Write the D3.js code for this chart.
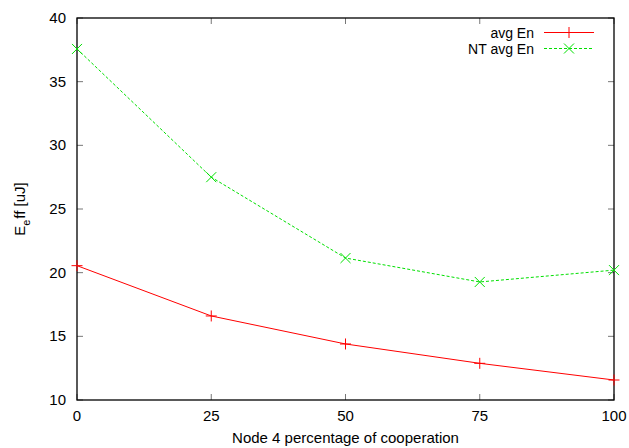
<!DOCTYPE html>
<html>
<head>
<meta charset="utf-8">
<script src="https://cdn.jsdelivr.net/npm/d3@7"></script>
<style>
  body { margin: 0; background: #fff; }
  text { font-family: "Liberation Sans", Arial, sans-serif; font-size: 15px; fill: #000; }
</style>
</head>
<body>
<div id="chart"></div>
<script>
// data
const coop = [0, 25, 50, 75, 100];
const avgEn = [20.55, 16.6, 14.4, 12.88, 11.57];
const ntAvgEn = [37.57, 27.5, 21.15, 19.27, 20.2];
const xTicks = [0, 25, 50, 75, 100];
const yTicks = [10, 15, 20, 25, 30, 35, 40];

const W = 629, H = 448;
const margin = { top: 18, right: 15, bottom: 48, left: 77 };
const width = W - margin.left - margin.right;
const height = H - margin.top - margin.bottom;

const svg = d3.select('#chart').append('svg')
    .attr('width', W).attr('height', H);
const g = svg.append('g')
    .attr('transform', 'translate(' + margin.left + ',' + margin.top + ')');

const x = d3.scaleLinear().domain([0, 100]).range([0, width]);
const y = d3.scaleLinear().domain([10, 40]).range([height, 0]);

// tick marks, mirrored on all sides (gnuplot style)
const tickLen = 6;
const tickCol = '#777';
xTicks.forEach(t => {
    g.append('line').attr('x1', x(t)).attr('x2', x(t))
        .attr('y1', height).attr('y2', height - tickLen).attr('stroke', tickCol);
    g.append('line').attr('x1', x(t)).attr('x2', x(t))
        .attr('y1', 0).attr('y2', tickLen).attr('stroke', tickCol);
    g.append('text').attr('x', x(t)).attr('y', height + 21)
        .attr('text-anchor', 'middle').text(t);
});
yTicks.forEach(t => {
    g.append('line').attr('x1', 0).attr('x2', tickLen)
        .attr('y1', y(t)).attr('y2', y(t)).attr('stroke', tickCol);
    g.append('line').attr('x1', width).attr('x2', width - tickLen)
        .attr('y1', y(t)).attr('y2', y(t)).attr('stroke', tickCol);
    g.append('text').attr('x', -11).attr('y', y(t) + 5)
        .attr('text-anchor', 'end').text(t);
});

// frame
g.append('rect').attr('width', width).attr('height', height)
    .attr('fill', 'none').attr('stroke', '#000').attr('stroke-width', 1.3);

// axis labels
svg.append('text').attr('x', margin.left + width / 2).attr('y', 443)
    .attr('text-anchor', 'middle').text('Node 4 percentage of cooperation');
const yl = svg.append('text')
    .attr('transform', 'translate(25,' + (margin.top + height / 2) + ') rotate(-90)')
    .attr('text-anchor', 'middle');
yl.append('tspan').text('E');
yl.append('tspan').attr('dy', 5).attr('font-size', 11).text('e');
yl.append('tspan').attr('dy', -5).attr('dx', 1).text('ff [uJ]');

const line = d3.line().x((d, i) => x(coop[i])).y(d => y(d));

function plus(sel, cx, cy, col) {
    const s = 5.5;
    sel.append('path').attr('d', `M${cx - s},${cy}H${cx + s}M${cx},${cy - s}V${cy + s}`)
        .attr('stroke', col).attr('fill', 'none');
}
function cross(sel, cx, cy, col) {
    const s = 5;
    sel.append('path').attr('d', `M${cx - s},${cy - s}L${cx + s},${cy + s}M${cx - s},${cy + s}L${cx + s},${cy - s}`)
        .attr('stroke', col).attr('fill', 'none');
}

const red = '#ff0000', green = '#00e000';

g.append('path').datum(avgEn).attr('d', line)
    .attr('fill', 'none').attr('stroke', red).attr('stroke-width', 1);
avgEn.forEach((v, i) => plus(g, x(coop[i]), y(v), red));

g.append('path').datum(ntAvgEn).attr('d', line)
    .attr('fill', 'none').attr('stroke', green).attr('stroke-width', 1)
    .attr('stroke-dasharray', '3,2');
ntAvgEn.forEach((v, i) => cross(g, x(coop[i]), y(v), green));

// legend
const legend = [
    { name: 'avg En', col: red, dash: null, mark: plus },
    { name: 'NT avg En', col: green, dash: '3,2', mark: cross }
];
legend.forEach((d, i) => {
    const ly = 32.5 + i * 16;
    svg.append('text').attr('x', 534).attr('y', ly + 5)
        .attr('text-anchor', 'end').style('font-size', '14px').text(d.name);
    svg.append('line').attr('x1', 544).attr('x2', 594)
        .attr('y1', ly).attr('y2', ly).attr('stroke', d.col)
        .attr('stroke-dasharray', d.dash);
    d.mark(svg, 569, ly, d.col);
});
</script>
</body>
</html>
